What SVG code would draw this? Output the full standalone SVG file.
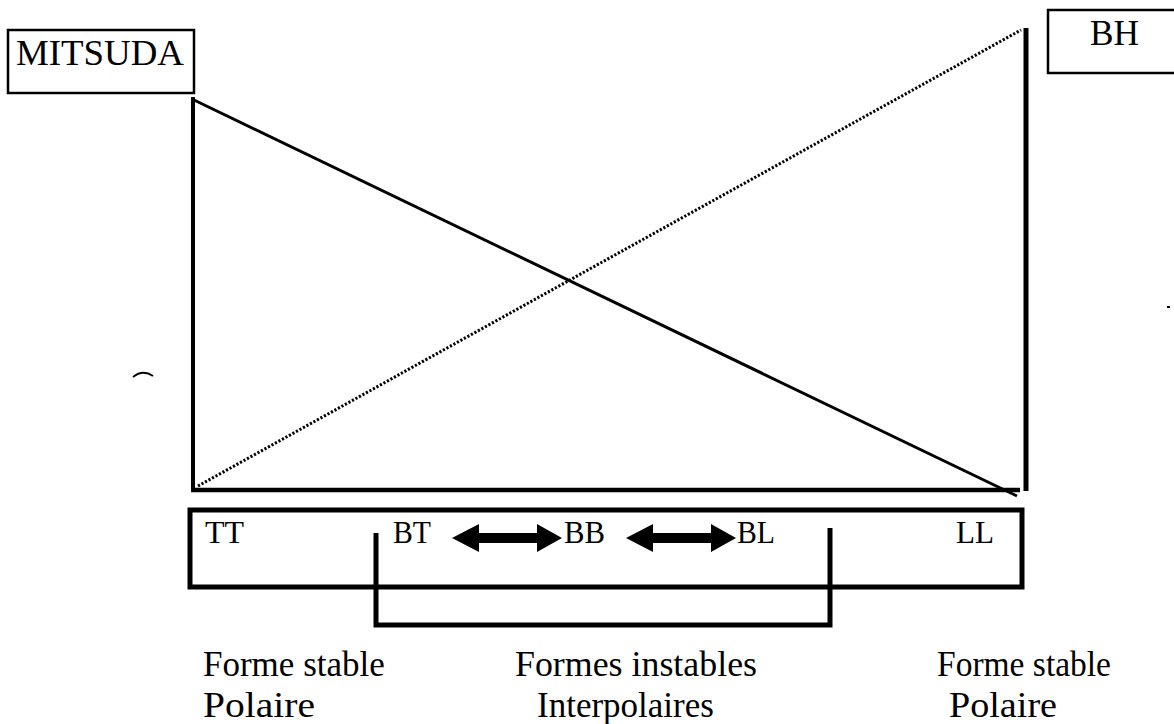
<svg xmlns="http://www.w3.org/2000/svg" width="1174" height="724" viewBox="0 0 1174 724">
  <style>
    .lbl { font-family: "Liberation Serif", "Times New Roman", serif; fill: #000; }
    .big { font-size: 35px; }
    .mid { font-size: 32px; }
    .cap { font-size: 35px; }
    .box { fill: none; stroke: #000; }
    .ln { stroke: #000; fill: none; }
  </style>
  <defs>
    <!-- double-headed block arrow, drawn from 0 to 110 along x, centred on y=0 -->
    <path id="dblArrow" d="M0,0 L27,-14 L27,-5 L85,-5 L85,-14 L110,0 L85,14 L85,5 L27,5 L27,14 Z" fill="#000"/>
  </defs>
  <rect width="1174" height="724" fill="#fff"/>

  <!-- legend boxes -->
  <g id="mitsuda">
    <rect class="box" x="8" y="30" width="186" height="63" stroke-width="2.5"/>
    <text class="lbl big" x="16" y="65" textLength="168" lengthAdjust="spacingAndGlyphs">MITSUDA</text>
  </g>
  <g id="bh">
    <rect class="box" x="1048" y="10" width="140" height="63" stroke-width="2.5"/>
    <text class="lbl big" x="1090" y="45" textLength="49" lengthAdjust="spacingAndGlyphs">BH</text>
  </g>

  <!-- frame and crossing lines -->
  <g id="connectors">
    <line class="ln" x1="193" y1="97" x2="193" y2="492" stroke-width="4"/>
    <line class="ln" x1="1026" y1="28" x2="1026" y2="491" stroke-width="5"/>
    <line class="ln" x1="191" y1="490" x2="1020" y2="490" stroke-width="4.5"/>
    <line class="ln" x1="194" y1="100" x2="1017" y2="496" stroke-width="3"/>
    <line class="ln" x1="198" y1="486" x2="1021" y2="30" stroke-width="3" stroke-dasharray="2.2 1.8"/>
    <!-- bracket grouping the unstable forms -->
    <path class="ln" d="M376,533 L376,625 L830,625 L830,528" stroke-width="5"/>
    <use href="#dblArrow" x="452" y="538"/>
    <use href="#dblArrow" x="626" y="538"/>
  </g>

  <!-- polymorph strip -->
  <g id="forms">
    <rect class="box" x="190" y="510" width="832" height="77" stroke-width="5"/>
    <text class="lbl mid" x="205" y="543" textLength="39" lengthAdjust="spacingAndGlyphs">TT</text>
    <text class="lbl mid" x="393" y="543" textLength="38" lengthAdjust="spacingAndGlyphs">BT</text>
    <text class="lbl mid" x="564" y="543" textLength="41" lengthAdjust="spacingAndGlyphs">BB</text>
    <text class="lbl mid" x="737" y="543" textLength="38" lengthAdjust="spacingAndGlyphs">BL</text>
    <text class="lbl mid" x="956" y="543" textLength="38" lengthAdjust="spacingAndGlyphs">LL</text>
  </g>

  <!-- captions -->
  <g id="caption-left">
    <text class="lbl cap" x="203" y="676">Forme stable</text>
    <text class="lbl cap" x="203" y="717" textLength="112" lengthAdjust="spacingAndGlyphs">Polaire</text>
  </g>
  <g id="caption-mid">
    <text class="lbl cap" x="515" y="676" textLength="242" lengthAdjust="spacingAndGlyphs">Formes instables</text>
    <text class="lbl cap" x="537" y="717">Interpolaires</text>
  </g>
  <g id="caption-right">
    <text class="lbl cap" x="937" y="676" textLength="174" lengthAdjust="spacingAndGlyphs">Forme stable</text>
    <text class="lbl cap" x="949" y="717" textLength="108" lengthAdjust="spacingAndGlyphs">Polaire</text>
  </g>

  <!-- stray marks -->
  <path d="M133,377 Q143,369 153,376" fill="none" stroke="#000" stroke-width="1.8"/>
  <rect x="1167" y="306" width="3" height="2" fill="#000"/>
</svg>
